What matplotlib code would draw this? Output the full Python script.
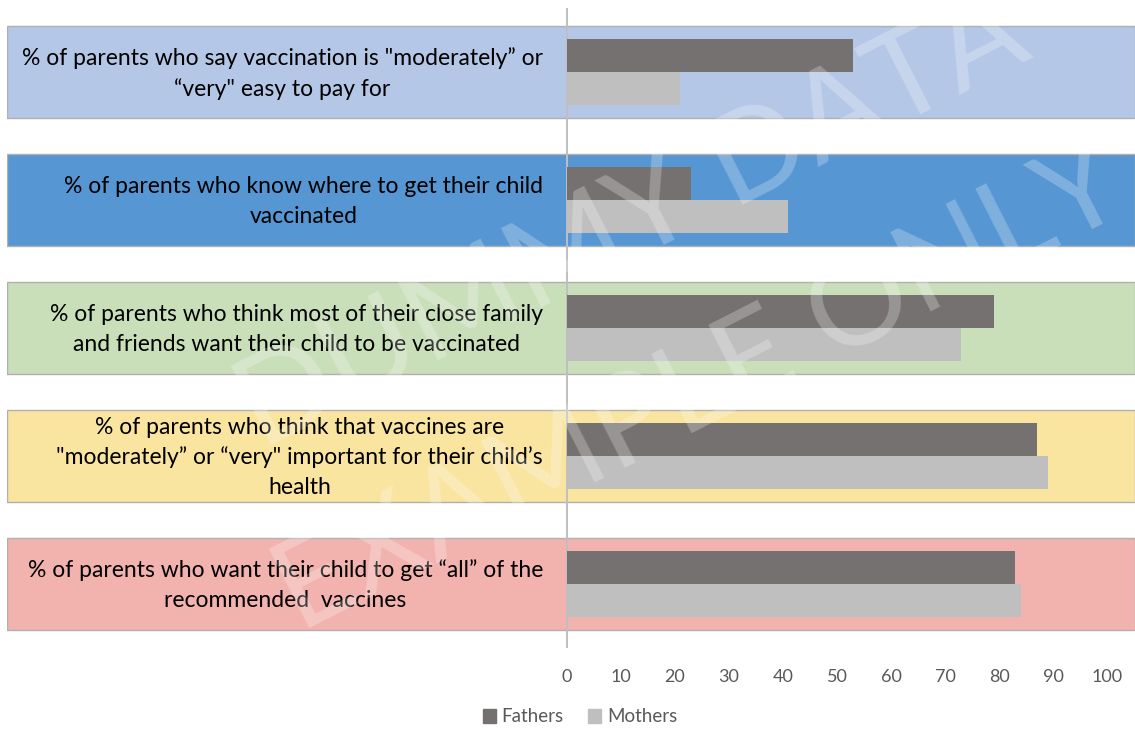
import matplotlib.pyplot as plt
from matplotlib.patches import Rectangle, Patch

plt.rcParams['font.family'] = ['Lato', 'DejaVu Sans']

# data
questions = [
    '% of parents who say vaccination is "moderately” or\n“very" easy to pay for',
    '% of parents who know where to get their child\nvaccinated',
    '% of parents who think most of their close family\nand friends want their child to be vaccinated',
    '% of parents who think that vaccines are\n"moderately” or “very" important for their child’s\nhealth',
    '% of parents who want their child to get “all” of the\nrecommended  vaccines',
]
fathers = [53, 23, 79, 87, 83]
mothers = [21, 41, 73, 89, 84]
band_colors = ['#B4C7E7', '#5596D3', '#C9DFB9', '#F9E4A0', '#F2B2AE']
xticks = list(range(0, 101, 10))

W, H = 1135, 729
fig = plt.figure(figsize=(W / 100, H / 100), dpi=100)
ax = fig.add_axes([7 / W, (H - 648) / H, (1135 - 7) / W, 640 / H])

px = 540 / 100  # pixels per unit on the value axis
x_left = (7 - 567) / px
x_right = (1135 - 567) / px
ax.set_xlim(x_left, x_right)
ax.set_ylim(4.5, -0.5)

pos = list(range(len(questions)))

# coloured bands behind each question
band_h = 0.712
for i, c in zip(pos, band_colors):
    ax.add_patch(Rectangle((x_left, i - band_h / 2), x_right - x_left, band_h,
                           facecolor=c, edgecolor='#B0B0B0', lw=1, zorder=1))

bh = 0.26
ax.barh([p - bh / 2 for p in pos], fathers, height=bh, color='#767171', zorder=3)
ax.barh([p + bh / 2 for p in pos], mothers, height=bh, color='#BFBFBF', zorder=3)

ax.axvline(0, color='#BFBFBF', lw=1.4, zorder=2)

# category labels, right-aligned next to the axis
for p, q in zip(pos, questions):
    ax.text((543 - 567) / px, p + 0.01, q, ha='right', va='center', multialignment='center',
            fontsize=16.5, color='black', linespacing=1.5, zorder=4)

for s in ax.spines.values():
    s.set_visible(False)
ax.set_yticks([])
ax.set_xticks(xticks)
ax.set_xticklabels([str(t) for t in xticks])
ax.tick_params(axis='x', length=0, pad=15, labelsize=13, labelcolor='#595959')

handles = [Patch(color='#767171', label='Fathers'), Patch(color='#BFBFBF', label='Mothers')]
fig.legend(handles=handles, loc='center', bbox_to_anchor=(580 / W, 1 - 717 / H), ncol=2,
           frameon=False, fontsize=13.5, labelcolor='#595959', handlelength=0.7,
           handleheight=0.7, handletextpad=0.3, columnspacing=1.3)

# watermark
fig.text(632 / W, 1 - 222 / H, 'DUMMY DATA', fontsize=90, color='white', alpha=0.25,
         rotation=27, rotation_mode='anchor', ha='center', va='center', zorder=10)
fig.text(700 / W, 1 - 390 / H, 'EXAMPLE ONLY', fontsize=90, color='white', alpha=0.25,
         rotation=27, rotation_mode='anchor', ha='center', va='center', zorder=10)

fig.savefig('out.png', dpi=100)
